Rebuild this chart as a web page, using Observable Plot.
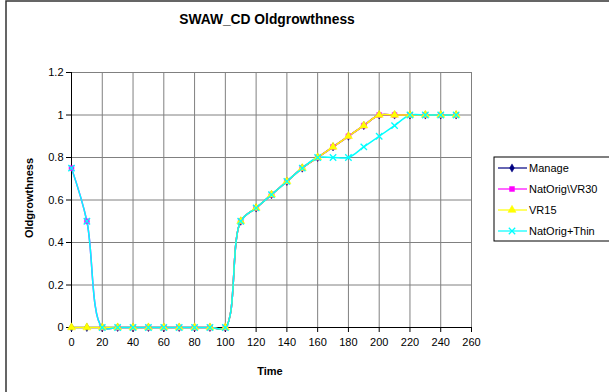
<!DOCTYPE html>
<html>
<head>
<meta charset="utf-8">
<script src="https://cdn.jsdelivr.net/npm/d3@7"></script>
<script src="https://cdn.jsdelivr.net/npm/@observablehq/plot@0.6"></script>
<style>
  html, body { margin: 0; padding: 0; background: #fff; }
  svg { display: block; }
</style>
</head>
<body>
<div id="chart"></div>
<script>
const title = "SWAW_CD Oldgrowthness";
const xLabel = "Time";
const yLabel = "Oldgrowthness";
const time = [0,10,20,30,40,50,60,70,80,90,100,110,120,130,140,150,160,170,180,190,200,210,220,230,240,250];
const seriesNames = ["Manage", "NatOrig\\VR30", "VR15", "NatOrig+Thin"];
const manage = [0,0,0,0,0,0,0,0,0,0,0,0.5,0.5625,0.625,0.6875,0.75,0.8,0.85,0.9,0.95,1,1,1,1,1,1];
const natOrigVR30 = [0.75,0.5,0,0,0,0,0,0,0,0,0,0.5,0.5625,0.625,0.6875,0.75,0.8,0.85,0.9,0.95,1,1,1,1,1,1];
const vr15 = [0,0,0,0,0,0,0,0,0,0,0,0.5,0.5625,0.625,0.6875,0.75,0.8,0.85,0.9,0.95,1,1,1,1,1,1];
const natOrigThin = [0.75,0.5,0,0,0,0,0,0,0,0,0,0.5,0.5625,0.625,0.6875,0.75,0.8,0.8,0.8,0.85,0.9,0.95,1,1,1,1];
const xTicks = [0,20,40,60,80,100,120,140,160,180,200,220,240,260];
const yTicks = [0,0.2,0.4,0.6,0.8,1,1.2];
const yTickLabels = ["0","0.2","0.4","0.6","0.8","1","1.2"];

const colors = ["#000080", "#FF00FF", "#FFFF00", "#00FFFF"];
const symbols = ["diamond", "square", "triangle", "times"];
const radii = [2.5, 2.8, 3, 3];

const allValues = [manage, natOrigVR30, vr15, natOrigThin];
const rows = [];
seriesNames.forEach((s, i) => {
  time.forEach((t, j) => rows.push({series: s, time: t, value: allValues[i][j]}));
});

const font = "'Liberation Sans', Arial, sans-serif";

const marks = [
  Plot.gridX(xTicks, {stroke: "#808080", strokeOpacity: 1}),
  Plot.gridY(yTicks, {stroke: "#808080", strokeOpacity: 1}),
  Plot.frame({stroke: "#808080"}),
  Plot.ruleX([0], {stroke: "#000"}),
  Plot.ruleY([0], {stroke: "#000"}),
  Plot.axisX({ticks: xTicks, tickSize: 5, tickPadding: 6, tickFormat: d => String(d), stroke: "#000", color: "#000", label: null}),
  Plot.axisY({ticks: yTicks, tickSize: 5, tickPadding: 3, tickFormat: d => yTickLabels[yTicks.indexOf(d)], stroke: "#000", color: "#000", label: null}),
];
seriesNames.forEach((s, i) => {
  marks.push(Plot.line(rows.filter(r => r.series === s), {x: "time", y: "value", stroke: colors[i], strokeWidth: 1.5, curve: "catmull-rom"}));
});
seriesNames.forEach((s, i) => {
  const isStroke = symbols[i] === "times";
  marks.push(Plot.dot(rows.filter(r => r.series === s), {
    x: "time", y: "value", symbol: symbols[i], r: radii[i],
    fill: isStroke ? "none" : colors[i],
    stroke: colors[i], strokeWidth: isStroke ? 1.3 : 0.5
  }));
});

const chart = Plot.plot({
  width: 609,
  height: 392,
  marginLeft: 71,
  marginRight: 138,
  marginTop: 72,
  marginBottom: 65,
  style: {fontFamily: font, fontSize: "11px", background: "#fff", color: "#000"},
  x: {domain: [0, 260]},
  y: {domain: [0, 1.2]},
  marks
});

const svg = d3.select(chart);
// outer chart border
svg.append("rect").attr("x", 6).attr("y", 1).attr("width", 620).attr("height", 420)
  .attr("fill", "none").attr("stroke", "#333").attr("stroke-width", 1.5);
// title
svg.append("text").attr("x", 267).attr("y", 24).attr("text-anchor", "middle")
  .attr("font-family", font).attr("font-weight", "bold").attr("font-size", 13.8).text(title);
// x label
svg.append("text").attr("x", 270).attr("y", 375).attr("text-anchor", "middle")
  .attr("font-family", font).attr("font-weight", "bold").attr("font-size", 11).text(xLabel);
// y label
svg.append("text").attr("transform", "translate(33,198) rotate(-90)").attr("text-anchor", "middle")
  .attr("font-family", font).attr("font-weight", "bold").attr("font-size", 11).text(yLabel);
// legend
const lg = svg.append("g");
lg.append("rect").attr("x", 494).attr("y", 157).attr("width", 130).attr("height", 84)
  .attr("fill", "#fff").attr("stroke", "#000").attr("stroke-width", 1);
const symMap = {diamond: d3.symbolDiamond, square: d3.symbolSquare, triangle: d3.symbolTriangle, times: d3.symbolTimes};
seriesNames.forEach((s, i) => {
  const y = 168 + i * 21;
  lg.append("line").attr("x1", 498).attr("x2", 527).attr("y1", y).attr("y2", y)
    .attr("stroke", colors[i]).attr("stroke-width", 1.2);
  const isStroke = symbols[i] === "times";
  lg.append("path").attr("transform", `translate(512,${y})`)
    .attr("d", d3.symbol(symMap[symbols[i]], Math.PI * radii[i] * radii[i])())
    .attr("fill", isStroke ? "none" : colors[i]).attr("stroke", colors[i]).attr("stroke-width", isStroke ? 1.3 : 0.5);
  lg.append("text").attr("x", 529).attr("y", y + 4).attr("text-anchor", "start")
    .attr("font-family", font).attr("font-size", 11).text(s);
});

document.getElementById("chart").appendChild(chart);
</script>
</body>
</html>
